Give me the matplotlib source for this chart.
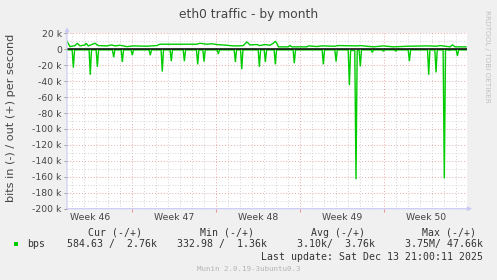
import matplotlib
matplotlib.use("Agg")
import matplotlib.pyplot as plt
from matplotlib.patches import Rectangle
from matplotlib.transforms import blended_transform_factory
import numpy as np

# ---------------- data (days since left edge, kbit/s) ----------------
out_days = [0.00, 0.25, 0.67, 0.86, 1.08, 1.50, 1.58, 1.78, 2.33, 2.61, 3.31, 3.73,
            4.00, 4.42, 4.98, 5.53, 6.64, 7.48, 7.75, 10.81, 11.08, 11.64, 12.06,
            12.48, 13.31, 13.86, 14.28, 14.69, 14.98, 15.25, 15.81, 16.08, 16.50,
            16.92, 17.19, 17.36, 17.53, 17.61, 18.44, 18.58, 18.73, 19.98, 20.11,
            20.81, 21.23, 22.33, 22.61, 24.14, 24.42, 25.53, 26.36, 27.19, 28.44,
            29.98, 30.81, 31.08, 31.92, 32.11, 32.33, 33.25]
out_kbps = [10.0, 3.3, 4.6, 7.5, 4.2, 5.4, 7.5, 4.2, 7.5, 4.6, 4.2, 5.4,
            4.2, 5.0, 3.3, 4.2, 3.8, 4.6, 6.3, 6.3, 7.5, 6.3, 6.9,
            5.9, 5.0, 4.2, 4.2, 4.6, 9.2, 5.4, 5.9, 4.6, 5.9,
            5.0, 7.5, 10.0, 6.3, 3.0, 3.0, 4.6, 3.0, 3.0, 4.2,
            3.4, 4.2, 3.8, 4.6, 4.2, 4.6, 3.0, 4.2, 3.0, 3.8,
            4.2, 3.8, 4.6, 3.0, 5.4, 3.0, 3.0]

in_days = [0.00, 0.43, 0.53, 0.63, 1.84, 1.94, 2.04, 2.43, 2.53, 2.63, 3.79, 3.89, 3.99,
           4.51, 4.61, 4.71, 5.34, 5.44, 5.54, 6.84, 6.94, 7.04, 7.84, 7.94, 8.04,
           8.59, 8.69, 8.79, 9.68, 9.78, 9.88, 10.79, 10.89, 10.99, 11.32, 11.42, 11.52,
           12.51, 12.61, 12.71, 13.93, 14.03, 14.13, 14.46, 14.56, 14.66, 15.93, 16.03,
           16.13, 16.43, 16.53, 16.63, 17.26, 17.36, 17.46, 18.84, 18.94, 19.04,
           21.26, 21.36, 21.46, 22.32, 22.42, 22.52, 23.43, 23.53, 23.63, 23.98, 24.08,
           24.18, 24.34, 24.44, 24.54, 25.34, 25.44, 25.54, 26.26, 26.36, 26.46,
           27.29, 27.39, 27.49, 28.43, 28.53, 28.63, 30.04, 30.14, 30.24, 30.65, 30.75,
           30.85, 31.34, 31.44, 31.54, 31.76, 31.86, 31.96, 32.43, 32.53, 32.63, 33.33]
in_kbps = [-0.8, -0.8, -23, -0.8, -0.8, -32, -0.8, -0.8, -22, -0.8, -0.8, -10, -0.8,
           -0.8, -16, -0.8, -0.8, -7.5, -0.8, -0.8, -7.5, -0.8, -0.8, -28, -0.8,
           -0.8, -15, -0.8, -0.8, -15, -0.8, -0.8, -19, -0.8, -0.8, -15.5, -0.8,
           -0.8, -6, -0.8, -0.8, -16, -0.8, -0.8, -25, -0.8, -0.8, -22,
           -0.8, -0.8, -16, -0.8, -0.8, -19, -0.8, -0.8, -17.5, -0.8,
           -0.8, -19, -0.8, -0.8, -15.5, -0.8, -0.8, -45, -1.5, -1.5, -163,
           -1.5, -1.5, -21.5, -0.8, -0.8, -4, -0.8, -0.8, -2.5, -0.8,
           -0.8, -2.5, -0.8, -0.8, -15, -0.8, -0.8, -32, -0.8, -0.8, -29,
           -0.8, -0.8, -162, -0.8, -0.8, -1.5, -0.8, -0.8, -8.5, -0.8, -0.8]

week_bounds = [5.4, 12.4, 19.4, 26.4]
week_labels = ["Week 46", "Week 47", "Week 48", "Week 49", "Week 50"]
week_centers = [1.9, 8.9, 15.9, 22.9, 29.9]
ytick_vals = list(range(-200, 21, 20))
ytick_labels = ["-200 k", "-180 k", "-160 k", "-140 k", "-120 k", "-100 k", "-80 k",
                "-60 k", "-40 k", "-20 k", "0", "20 k"]

legend_headers = ["Cur (-/+)", "Min (-/+)", "Avg (-/+)", "Max (-/+)"]
legend_values = ["584.63 /  2.76k", "332.98 /  1.36k", "3.10k/  3.76k", "3.75M/ 47.66k"]
series_name = "bps"

# ---------------- figure ----------------
W, H = 497, 280
fig = plt.figure(figsize=(W / 100, H / 100), dpi=100)
fig.patch.set_facecolor("#F0F0F0")

px_l, px_r, px_t, px_b = 67, 467, 33.3, 208.7
ax = fig.add_axes([px_l / W, 1 - px_b / H, (px_r - px_l) / W, (px_b - px_t) / H])
ax.set_facecolor("white")
ax.set_xlim(0, 33.33)
ax.set_ylim(-200, 20)

green = "#00CC00"
ax.plot(out_days, out_kbps, color=green, lw=1.0, zorder=3, solid_joinstyle="miter")
ax.plot(in_days, in_kbps, color=green, lw=1.0, zorder=3, solid_joinstyle="miter")
ax.axhline(0, color="black", lw=1.1, zorder=4)

# grid
ax.set_yticks(ytick_vals)
ax.set_yticklabels(ytick_labels)
ax.set_yticks(np.arange(-190, 20, 20), minor=True)
ax.set_xticks(week_bounds)
ax.set_xticklabels([""] * len(week_bounds))
ax.set_xticks(np.arange(0.4, 33.33, 1.0), minor=True)
major_c = "#E8A8A8"
minor_c = "#D2D2D2"
dots = (0, (1, 2))
ax.grid(which="minor", color=minor_c, ls=dots, lw=0.7, zorder=1)
ax.grid(which="major", color=major_c, ls=dots, lw=0.7, zorder=1.5)
ax.set_axisbelow(True)

ax.tick_params(axis="y", which="major", length=2.2, width=0.6, color="#888888",
               labelsize=6.7, labelcolor="#444444", pad=1.5)
ax.tick_params(axis="x", which="major", length=2.2, width=0.6, color="#E08080",
               labelsize=6.7)
ax.tick_params(which="minor", length=0)

for s in ax.spines.values():
    s.set_visible(False)

axis_c = "#C8C8F4"
ax.annotate("", xy=(0, 1 + 6 / 175.4), xytext=(0, 0), xycoords="axes fraction",
            arrowprops=dict(arrowstyle="-|>", color=axis_c, lw=0.8,
                            mutation_scale=6, shrinkA=0, shrinkB=0), zorder=5)
ax.annotate("", xy=(1 + 5 / 400, 0), xytext=(0, 0), xycoords="axes fraction",
            arrowprops=dict(arrowstyle="-|>", color=axis_c, lw=0.8,
                            mutation_scale=6, shrinkA=0, shrinkB=0), zorder=5)

trans = blended_transform_factory(ax.transData, ax.transAxes)
for c, lab in zip(week_centers, week_labels):
    ax.text(c, -8.8 / 175.4, lab, transform=trans, ha="center", va="center",
            fontsize=6.7, color="#444444")

# texts
def fx(x):
    return x / W

def fy(y):
    return 1 - y / H

fig.text(fx(248.5), fy(14.5), "eth0 traffic - by month", ha="center", va="center",
         fontsize=8.8, color="#444444")
fig.text(fx(11.5), fy(118), "bits in (-) / out (+) per second", rotation=90,
         ha="center", va="center", fontsize=8.1, color="#444444")
fig.text(fx(487.3), fy(56), "RRDTOOL / TOBI OETIKER", rotation=270,
         ha="center", va="center", fontsize=5.2, color="#C0C0C0")

mono = "DejaVu Sans Mono"
hdr_ends = [142.3, 254, 365, 476]
val_ends = [157.3, 266.7, 375, 482.7]
for e, t in zip(hdr_ends, legend_headers):
    fig.text(fx(e), fy(232.7), t, ha="right", va="center", family=mono,
             fontsize=7.1, color="#333333")
for e, t in zip(val_ends, legend_values):
    fig.text(fx(e), fy(244.3), t, ha="right", va="center", family=mono,
             fontsize=7.1, color="#333333")
fig.text(fx(26.7), fy(244.3), series_name, ha="left", va="center", family=mono,
         fontsize=7.1, color="#333333")
fig.patches.append(Rectangle((fx(14), fy(246)), 4 / W, 4 / H, transform=fig.transFigure,
                             facecolor=green, edgecolor="none"))
fig.text(fx(482.7), fy(256.7), "Last update: Sat Dec 13 21:00:11 2025", ha="right",
         va="center", family=mono, fontsize=7.1, color="#333333")
fig.text(fx(248.3), fy(269), "Munin 2.0.19-3ubuntu0.3", ha="center", va="center",
         family=mono, fontsize=5.4, color="#B4B4B4")

fig.savefig("out.png", dpi=100, facecolor=fig.get_facecolor())
